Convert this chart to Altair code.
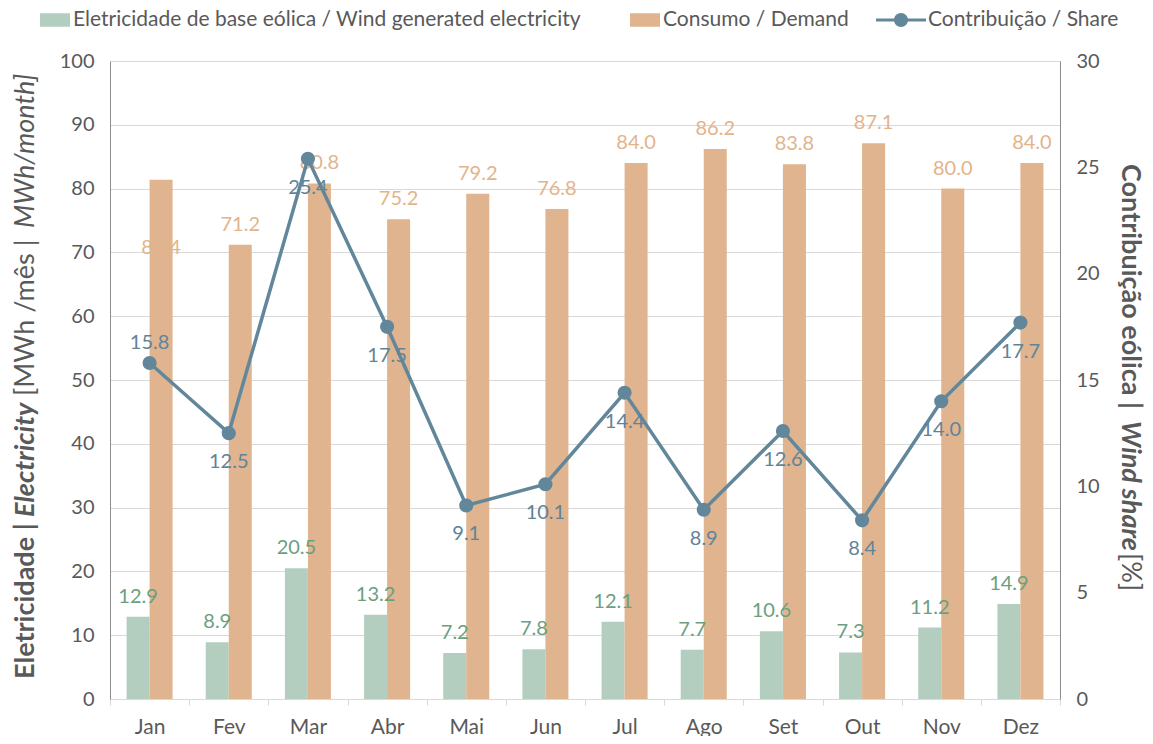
import altair as alt
import pandas as pd

months = ["Jan", "Fev", "Mar", "Abr", "Mai", "Jun", "Jul", "Ago", "Set", "Out", "Nov", "Dez"]
wind = [12.9, 8.9, 20.5, 13.2, 7.2, 7.8, 12.1, 7.7, 10.6, 7.3, 11.2, 14.9]
demand = [81.4, 71.2, 80.8, 75.2, 79.2, 76.8, 84.0, 86.2, 83.8, 87.1, 80.0, 84.0]
share = [15.8, 12.5, 25.4, 17.5, 9.1, 10.1, 14.4, 8.9, 12.6, 8.4, 14.0, 17.7]

S_WIND = "Eletricidade de base eólica / Wind generated electricity"
S_DEM = "Consumo / Demand"
S_SHARE = "Contribuição / Share"

left_title = [("Eletricidade |", "bold", "normal"), ("Electricity", "bold", "italic"),
              ("[MWh /mês |", "normal", "normal"), ("MWh/month]", "normal", "italic")]
right_title = [("Contribuição eólica |", "bold", "normal"), ("Wind share", "bold", "italic"),
               ("[%]", "normal", "normal")]

FONT = "Lato"
GREY = "#595959"
C_WIND, C_DEM, C_LINE = "#B3CEBF", "#DFB48F", "#62879B"
L_WIND, L_DEM, L_LINE = "#6B9F7F", "#E2B48C", "#5F8499"

bars_df = pd.DataFrame({
    "month": months * 2,
    "series": [S_WIND] * 12 + [S_DEM] * 12,
    "value": wind + demand,
})
line_df = pd.DataFrame({"month": months, "share": share, "s": [S_SHARE] * 12})

x_enc = alt.X("month:N", sort=months,
              scale=alt.Scale(paddingInner=0, paddingOuter=0),
              axis=alt.Axis(title=None, labelAngle=0, labelFont=FONT, labelFontSize=21,
                            labelColor=GREY, tickBand="extent", tickColor="#D9D9D9",
                            tickSize=6, domainColor="#D9D9D9", labelPadding=11, grid=False))
xoff = alt.XOffset("series:N", sort=[S_WIND, S_DEM],
                   scale=alt.Scale(domain=[S_WIND, S_DEM], paddingInner=0, paddingOuter=0.72))
y_left = alt.Y("value:Q", scale=alt.Scale(domain=[0, 100]),
               axis=alt.Axis(title=None, values=list(range(0, 101, 10)), labelFont=FONT,
                             labelFontSize=20, labelColor=GREY, tickSize=0, labelPadding=16,
                             domainColor="#8C8C8C", gridColor="#D9D9D9"))

bars = alt.Chart(bars_df).mark_bar().encode(
    x=x_enc, xOffset=xoff, y=y_left,
    color=alt.Color("series:N", sort=[S_WIND, S_DEM],
                    scale=alt.Scale(domain=[S_WIND, S_DEM], range=[C_WIND, C_DEM]),
                    legend=alt.Legend(title=None, orient="none", legendX=-70, legendY=-56,
                                      direction="horizontal",
                                      symbolType="M-1,-0.45L1,-0.45L1,0.45L-1,0.45Z",
                                      symbolSize=900, symbolStrokeWidth=0, labelFont=FONT,
                                      labelFontSize=21, labelColor=GREY, labelLimit=700,
                                      columnPadding=49, labelOffset=3)),
)

def bar_labels(color, dy, cond):
    return alt.Chart(bars_df).transform_filter(cond).mark_text(
        font=FONT, fontSize=20, color=color, baseline="middle", dy=dy
    ).encode(x=x_enc, xOffset=xoff, y=y_left, text=alt.Text("value:Q", format=".1f"))

t_wind = bar_labels(L_WIND, -20, alt.datum.series == S_WIND)
t_dem = bar_labels(L_DEM, -20, (alt.datum.series == S_DEM) & (alt.datum.month != "Jan"))
t_dem_jan = bar_labels(L_DEM, 68, (alt.datum.series == S_DEM) & (alt.datum.month == "Jan"))

# left axis title as styled segments (bottom to top)
lt_layers = []
ypos = 618
seg_len_left = [162, 121, 168, 158]
for (txt, w, st), ln in zip(left_title, seg_len_left):
    lt_layers.append(alt.Chart(pd.DataFrame({"t": [txt]})).mark_text(
        angle=270, align="left", baseline="middle", font=FONT, fontSize=27,
        fontWeight=w, fontStyle=st, color=GREY
    ).encode(x=alt.value(-84), y=alt.value(ypos), text="t:N"))
    ypos -= ln

# right axis title as styled segments (top to bottom)
rt_layers = []
ypos = 103
seg_len_right = [257, 132, 40]
for (txt, w, st), ln in zip(right_title, seg_len_right):
    rt_layers.append(alt.Chart(pd.DataFrame({"t": [txt]})).mark_text(
        angle=90, align="left", baseline="middle", font=FONT, fontSize=27,
        fontWeight=w, fontStyle=st, color=GREY
    ).encode(x=alt.value(1020), y=alt.value(ypos), text="t:N"))
    ypos += ln

left = alt.layer(bars, t_wind, t_dem, t_dem_jan, *lt_layers)

y_right = alt.Y("share:Q", scale=alt.Scale(domain=[0, 30]),
                axis=alt.Axis(orient="right", title=None, values=list(range(0, 31, 5)),
                              labelFont=FONT, labelFontSize=20, labelColor=GREY, tickSize=0,
                              labelPadding=16, domainColor="#8C8C8C", grid=False))

line = alt.Chart(line_df).mark_line(color=C_LINE, strokeWidth=3.5).encode(x=x_enc, y=y_right)
points = alt.Chart(line_df).mark_point(filled=True, size=200, opacity=1).encode(
    x=x_enc, y=y_right,
    fill=alt.Fill("s:N", scale=alt.Scale(domain=[S_SHARE], range=[C_LINE]),
                  legend=alt.Legend(title=None, orient="none", legendX=766, legendY=-66,
                                    symbolType="M-1,-0.06L1,-0.06L1,0.06L-1,0.06Z M0.28,0A0.28,0.28 0 1,1 -0.28,0A0.28,0.28 0 1,1 0.28,0Z",
                                    symbolSize=2500, symbolStrokeWidth=0, labelFont=FONT,
                                    labelFontSize=21, labelColor=GREY, labelLimit=400,
                                    labelOffset=2)),
)
s_lab = alt.Chart(line_df).transform_filter(alt.datum.month != "Jan").mark_text(
    font=FONT, fontSize=20, color=L_LINE, baseline="middle", dy=29
).encode(x=x_enc, y=y_right, text=alt.Text("share:Q", format=".1f"))
s_lab_jan = alt.Chart(line_df).transform_filter(alt.datum.month == "Jan").mark_text(
    font=FONT, fontSize=20, color=L_LINE, baseline="middle", dy=-20
).encode(x=x_enc, y=y_right, text=alt.Text("share:Q", format=".1f"))

right = alt.layer(line, points, s_lab, s_lab_jan, *rt_layers)

chart = alt.layer(left, right).resolve_scale(y="independent").properties(
    width=950, height=638,
    autosize=alt.AutoSizeParams(type="none"),
    padding={"left": 102, "top": 53, "right": 85, "bottom": 37},
).configure_view(stroke=None)

chart.save("out.html", embed_options={"renderer": "svg", "actions": False})
